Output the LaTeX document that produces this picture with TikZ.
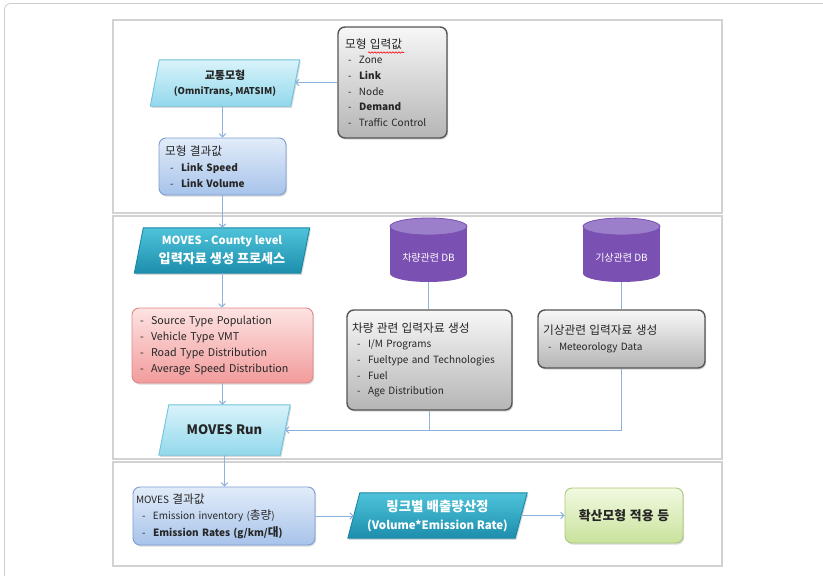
\documentclass[tikz,border=0pt]{standalone}
\usepackage{fontspec}
\setmainfont{Noto Sans CJK KR}
\newfontfamily\krf{Noto Sans CJK KR}[Scale=1.17]
\usetikzlibrary{arrows.meta,shadows,backgrounds,decorations.pathmorphing}
\definecolor{panelgray}{HTML}{D2D2D2}
\definecolor{framegray}{HTML}{CCCCCC}
\definecolor{connblue}{HTML}{8FB2DC}
\definecolor{txt}{HTML}{262626}
\definecolor{cyanT}{HTML}{D9F3FA}
\definecolor{cyanB}{HTML}{92D8EC}
\definecolor{cyanD}{HTML}{6FC4DC}
\definecolor{tealT}{HTML}{4FC3DA}
\definecolor{tealB}{HTML}{1C8EAD}
\definecolor{tealD}{HTML}{1A87A6}
\definecolor{blueT}{HTML}{E2ECF9}
\definecolor{blueB}{HTML}{A7C3EA}
\definecolor{blueD}{HTML}{7C9ED2}
\definecolor{grayT}{HTML}{F7F7F7}
\definecolor{grayB}{HTML}{B5B5B5}
\definecolor{grayD}{HTML}{555555}
\definecolor{redT}{HTML}{FDE3E3}
\definecolor{redB}{HTML}{F29B9B}
\definecolor{redD}{HTML}{E08888}
\definecolor{grnT}{HTML}{F2F9E0}
\definecolor{grnB}{HTML}{C9E29C}
\definecolor{grnD}{HTML}{A9C97C}
\definecolor{dbBody}{HTML}{7A50B2}
\definecolor{dbTop}{HTML}{9C7FCA}
\newcommand{\myfs}[2]{\fontsize{#1}{#2}\selectfont}
\newcommand{\kor}[1]{{\krf #1}}
\newcommand{\itm}[2][4pt]{\hspace*{#1}\makebox[11pt][l]{-}#2}
\newcommand{\myparallel}[3]{%
  \begin{scope}[on background layer]
  \path[#3] ([xshift=#2]#1.north west) -- ([xshift=#2]#1.north east) -- ([xshift=-#2]#1.south east) -- ([xshift=-#2]#1.south west) -- cycle;
  \end{scope}}
\newcommand{\mycyl}[3]{% center x, top y, bottom y (rx 38.5, ry 8.5)
  \begin{scope}[on background layer]
  \fill[dbBody] (#1-38.5,#2+8.5) rectangle (#1+38.5,#3-8.5);
  \fill[dbBody] (#1,#3-8.5) ellipse[x radius=38.5, y radius=8.5];
  \fill[dbTop, draw=dbBody, line width=0.8pt] (#1,#2+8.5) ellipse[x radius=38.5, y radius=8.5];
  \end{scope}}
\tikzset{
  base/.style={inner sep=0pt, align=left, text=txt, font=\myfs{10}{15.7}},
  shadowed/.style={drop shadow={opacity=0.3, shadow xshift=1.2pt, shadow yshift=-1.6pt}},
  rbox/.style={base, rectangle, rounded corners=7pt, shadowed, line width=0.9pt},
  grayb/.style={rbox, draw=grayD, line width=1.4pt, top color=grayT, bottom color=grayB},
  blueb/.style={rbox, draw=blueD, top color=blueT, bottom color=blueB},
  redb/.style={rbox, draw=redD, top color=redT, bottom color=redB},
  grnb/.style={rbox, draw=grnD, top color=grnT, bottom color=grnB, align=center},
  pnode/.style={base, rectangle, align=center},
  pcyan/.style={draw=cyanD, line width=0.9pt, top color=cyanT, bottom color=cyanB, shadowed},
  pteal/.style={draw=tealD, line width=0.9pt, top color=tealT, bottom color=tealB, shadowed},
  dbnode/.style={base, rectangle, align=center, text=white, font=\myfs{10}{12}, minimum width=77, minimum height=48},
  conn/.style={draw=connblue, line width=1.0pt},
  arr/.style={conn, -{Straight Barb[length=3.2pt,width=6.5pt,line width=1.0pt]}},
  panel/.style={draw=panelgray, line width=1.8pt}
}
\begin{document}
\begin{tikzpicture}[x=1pt,y=-1pt]
\useasboundingbox (0,0) rectangle (823,576);
% frame and panels
\draw[framegray, line width=0.8pt, rounded corners=6pt] (4.5,576) -- (4.5,3.5) -- (823,3.5);
\draw[panel] (113,20) rectangle (722,213);
\draw[panel] (113,216) rectangle (722,459);
\draw[panel] (113,462) rectangle (722,566);

% top panel
\node[pnode, minimum width=140, minimum height=46, font=\bfseries\myfs{9.4}{15}] (traffic) at (225,83) {\kor{교통모형}\\(OmniTrans, MATSIM)};
\myparallel{traffic}{4.5pt}{pcyan}
\node[grayb, minimum height=111, text width=95, inner xsep=7pt] (input) at (392.5,82.5)
  {\kor{모형 입력값}\\ \itm[3pt]{Zone}\\ \itm[3pt]{\textbf{Link}}\\ \itm[3pt]{Node}\\ \itm[3pt]{\textbf{Demand}}\\ \itm[3pt]{Traffic Control}};
\draw[red, line width=0.6pt, decorate, decoration={snake, amplitude=0.7pt, segment length=3pt}] (368,52.5) -- (404,52.5);
\node[blueb, minimum height=57, text width=115, inner xsep=6pt, font=\myfs{10}{16}] (result) at (222.5,166.5)
  {\kor{모형 결과값}\\ \itm[5pt]{\textbf{Link Speed}}\\ \itm[5pt]{\textbf{Link Volume}}};

% middle panel
\node[pnode, minimum width=166, minimum height=45, text=white, font=\bfseries\myfs{11.2}{19}] (county) at (222,250.5) {MOVES - County level\\\kor{입력자료 생성 프로세스}};
\myparallel{county}{4.5pt}{pteal}
\node[redb, minimum height=75, text width=165, inner xsep=8pt, font=\myfs{10.7}{16}] (source) at (222.5,345.5)
  {\itm[0pt]{Source Type Population}\\ \itm[0pt]{Vehicle Type VMT}\\ \itm[0pt]{Road Type Distribution}\\ \itm[0pt]{Average Speed Distribution}};
\node[pnode, minimum width=121, minimum height=50, font=\bfseries\myfs{13}{16}] (run) at (224.5,430) {MOVES Run};
\myparallel{run}{5pt}{pcyan}

\node[dbnode] (db1) at (428.5,258) {차량관련 DB};
\mycyl{428.5}{218}{282}
\node[dbnode] (db2) at (621.5,258) {기상관련 DB};
\mycyl{621.5}{218}{282}

\node[grayb, minimum height=100, text width=155, inner xsep=5pt] (vehgen) at (429.5,360)
  {\kor{차량 관련 입력자료 생성}\\ \itm[5pt]{I/M Programs}\\ \itm[5pt]{Fueltype and Technologies}\\ \itm[5pt]{Fuel}\\ \itm[5pt]{Age Distribution}};
\node[grayb, minimum height=58, text width=157, inner xsep=5pt, font=\myfs{10}{16}] (metgen) at (621.5,339)
  {\kor{기상관련 입력자료 생성}\\ \itm[5pt]{Meteorology Data}};

% bottom panel
\node[blueb, minimum height=58, text width=176, inner xsep=3pt, font=\myfs{10}{16.5}] (movesres) at (224,516)
  {MOVES \kor{결과값}\\ \itm[6pt]{Emission inventory (\kor{총량})}\\ \itm[6pt]{\textbf{Emission Rates (g/km/\kor{대})}}};
\node[pnode, minimum width=167, minimum height=45, text=white, font=\bfseries\myfs{11.5}{18}] (linkemit) at (437.5,515.5) {\kor{링크별 배출량산정}\\(Volume*Emission Rate)};
\myparallel{linkemit}{6pt}{pteal}
\node[grnb, minimum height=55, text width=110, inner xsep=4pt, font=\bfseries\myfs{11}{14}] (disp) at (624,515.5) {\kor{확산모형 적용 등}};

% connectors
\draw[arr] (input.west) -- (input.west -| traffic.east);
\draw[arr] (result.north |- traffic.south) -- (result.north);
\draw[arr] (result.south) -- (result.south |- county.north);
\draw[arr] (county.south) -- (county.south |- source.north);
\draw[arr] (source.south) -- (source.south |- run.north);
\draw[arr] (run.south) -- (run.south |- movesres.north);
\draw[conn] (db1.south) -- (db1.south |- vehgen.north);
\draw[conn] (db2.south) -- (db2.south |- metgen.north);
\draw[conn] (vehgen.south) -- (vehgen.south |- run.east);
\draw[arr] (metgen.south) -- (metgen.south |- run.east) -- (run.east);
\draw[arr] (movesres.east) -- (movesres.east -| linkemit.west);
\draw[arr] (linkemit.east) -- (disp.west);
\end{tikzpicture}
\end{document}
